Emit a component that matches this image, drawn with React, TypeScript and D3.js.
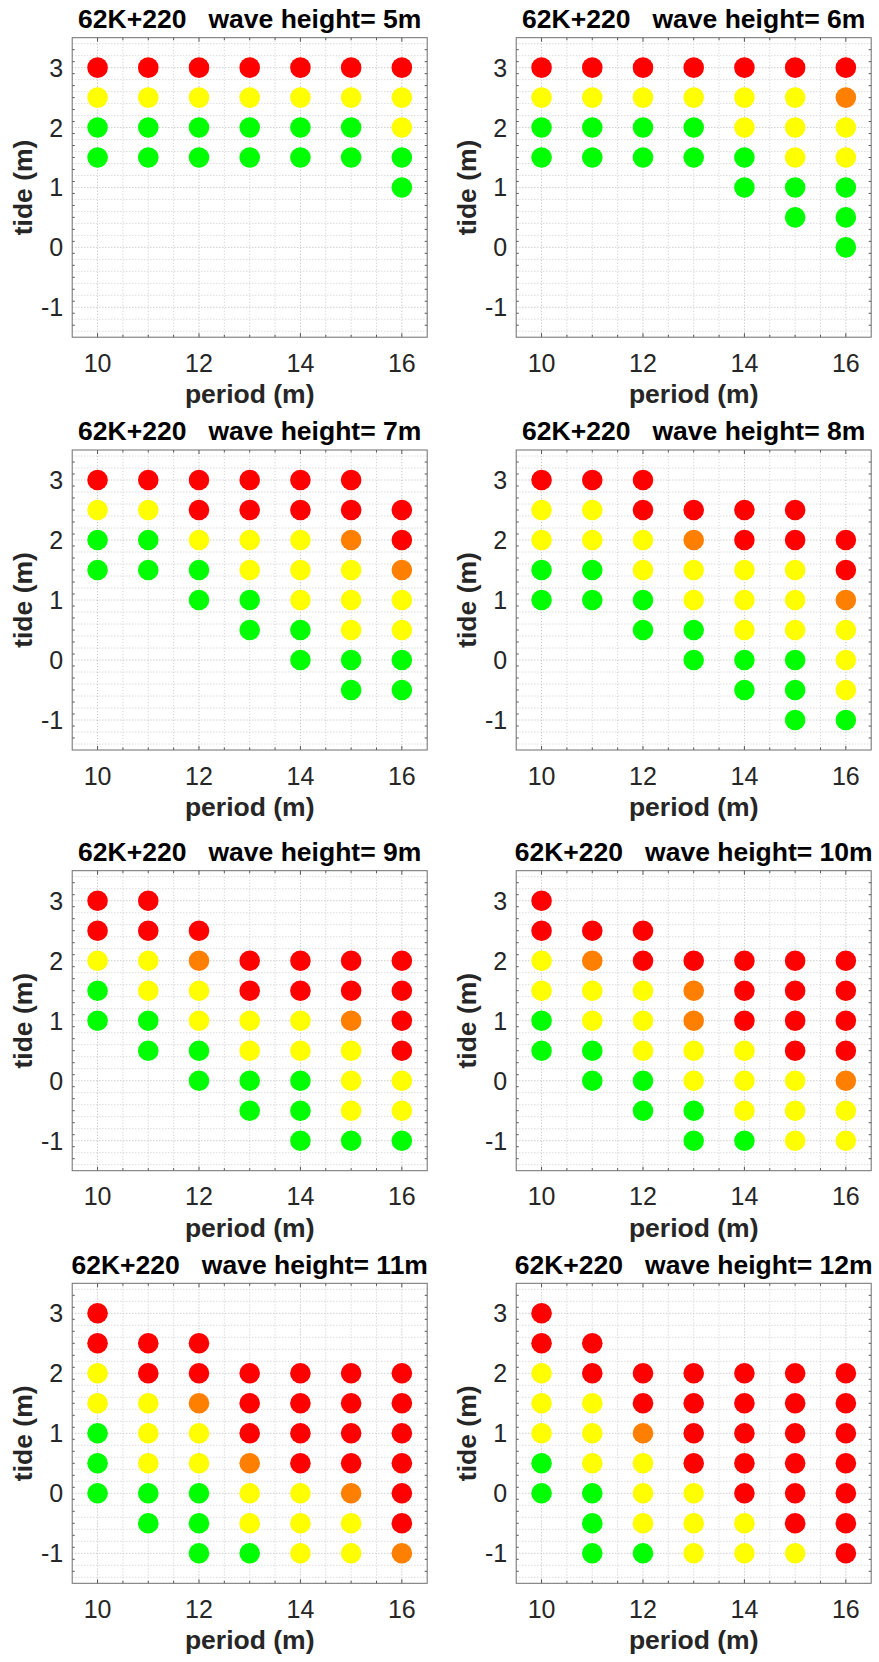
import React from 'react';
import * as d3 from 'd3';

const stationLabel = '62K+220';
const periods = [10, 11, 12, 13, 14, 15, 16];
const tideLevels = [3, 2.5, 2, 1.5, 1, 0.5, 0, -0.5, -1];
const waveHeights = [5, 6, 7, 8, 9, 10, 11, 12];
const xTickValues = [10, 12, 14, 16];
const yTickValues = [-1, 0, 1, 2, 3];
const xDomain = [9.5, 16.5];
const yDomain = [-1.5, 3.5];

// One string per period (10..16); each char is the class at the tide levels 3 .. -1 ('.' = no case)
const waveH5 = ['RYGG.....', 'RYGG.....', 'RYGG.....', 'RYGG.....', 'RYGG.....', 'RYGG.....', 'RYYGG....'];
const waveH6 = ['RYGG.....', 'RYGG.....', 'RYGG.....', 'RYGG.....', 'RYYGG....', 'RYYYGG...', 'ROYYGGG..'];
const waveH7 = ['RYGG.....', 'RYGG.....', 'RRYGG....', 'RRYYGG...', 'RRYYYGG..', 'RROYYYGG.', '.RROYYGG.'];
const waveH8 = ['RYYGG....', 'RYYGG....', 'RRYYGG...', '.ROYYGG..', '.RRYYYGG.', '.RRYYYGGG', '..RROYYYG'];
const waveH9 = ['RRYGG....', 'RRYYGG...', '.ROYYGG..', '..RRYYGG.', '..RRYYGGG', '..RROYYYG', '..RRRRYYG'];
const waveH10 = ['RRYYGG...', '.ROYYGG..', '.RRYYYGG.', '..ROOYYGG', '..RRRYYYG', '..RRRRYYY', '..RRRROYY'];
const waveH11 = ['RRYYGGG..', '.RRYYYGG.', '.RROYYGGG', '..RRROYYG', '..RRRRYYY', '..RRRROYY', '..RRRRRRO'];
const waveH12 = ['RRYYYGG..', '.RRYYYGGG', '..RROYYYG', '..RRRRYYY', '..RRRRRYY', '..RRRRRRY', '..RRRRRRR'];

const panelGrids = [waveH5, waveH6, waveH7, waveH8, waveH9, waveH10, waveH11, waveH12];

const classColors: Record<string, string> = {
  R: '#ff0000',
  O: '#ff7f00',
  Y: '#ffff00',
  G: '#00ff00',
};

const W = 879;
const H = 1662;
const colX = [
  [72.2, 427.2],
  [516.2, 871.2],
];
const rowY = [
  [37.7, 337.2],
  [450.0, 750.0],
  [870.7, 1170.7],
  [1283.3, 1583.3],
];

const FONT = "'Liberation Sans', Arial, Helvetica, sans-serif";

function range(a: number, b: number, step: number) {
  const out: number[] = [];
  const n = Math.round((b - a) / step);
  for (let i = 0; i <= n; i++) out.push(+(a + i * step).toFixed(6));
  return out;
}

function Panel({ idx }: { idx: number }) {
  const col = idx % 2;
  const row = Math.floor(idx / 2);
  const [x0, x1] = colX[col];
  const [y0, y1] = rowY[row];
  const x = d3.scaleLinear().domain(xDomain).range([x0, x1]);
  const y = d3.scaleLinear().domain(yDomain).range([y1, y0]);
  const grid = panelGrids[idx];

  const xMinor = range(9.5, 16.5, 0.5).filter((v) => v > 9.5 && v < 16.5);
  const yMinor = range(-1.5, 3.5, 0.2).filter((v) => v > -1.5 && v < 3.5);
  const yMinorAll = range(-1.4, 3.4, 0.2);

  const dots: { p: number; t: number; c: string }[] = [];
  grid.forEach((s, pi) => {
    s.split('').forEach((ch, ti) => {
      if (ch !== '.') dots.push({ p: periods[pi], t: tideLevels[ti], c: classColors[ch] });
    });
  });

  const cx = (x0 + x1) / 2;
  const cy = (y0 + y1) / 2;

  return (
    <g>
      <rect x={x0} y={y0} width={x1 - x0} height={y1 - y0} fill="#ffffff" />
      {/* vertical grid */}
      {xMinor.map((v) => {
        const major = xTickValues.includes(v);
        return (
          <line
            key={'gx' + v}
            x1={x(v)}
            x2={x(v)}
            y1={y0}
            y2={y1}
            stroke={major ? '#c4c4c4' : '#d4d4d4'}
            strokeWidth={1}
            strokeDasharray="1.2 1.8"
          />
        );
      })}
      {/* horizontal grid */}
      {yMinorAll.map((v) => {
        const major = yTickValues.includes(Math.round(v * 10) / 10) && Math.abs(v - Math.round(v)) < 1e-6;
        return (
          <line
            key={'gy' + v}
            x1={x0}
            x2={x1}
            y1={y(v)}
            y2={y(v)}
            stroke={major ? '#c4c4c4' : '#d4d4d4'}
            strokeWidth={1}
            strokeDasharray="1.2 1.8"
          />
        );
      })}
      {/* ticks, all four sides */}
      {xMinor.map((v) => {
        const len = xTickValues.includes(v) ? 4 : 2.5;
        return (
          <g key={'tx' + v}>
            <line x1={x(v)} x2={x(v)} y1={y1} y2={y1 - len} stroke="#555" strokeWidth={1} />
            <line x1={x(v)} x2={x(v)} y1={y0} y2={y0 + len} stroke="#555" strokeWidth={1} />
          </g>
        );
      })}
      {yMinor.map((v) => {
        const len = Math.abs(v - Math.round(v)) < 1e-6 ? 4 : 2.5;
        return (
          <g key={'ty' + v}>
            <line x1={x0} x2={x0 + len} y1={y(v)} y2={y(v)} stroke="#555" strokeWidth={1} />
            <line x1={x1} x2={x1 - len} y1={y(v)} y2={y(v)} stroke="#555" strokeWidth={1} />
          </g>
        );
      })}
      {/* dots */}
      {dots.map((d, i) => (
        <circle key={'d' + i} cx={x(d.p)} cy={y(d.t)} r={10.3} fill={d.c} />
      ))}
      {/* box */}
      <rect x={x0} y={y0} width={x1 - x0} height={y1 - y0} fill="none" stroke="#6e6e6e" strokeWidth={1} />
      {/* tick labels */}
      {xTickValues.map((v) => (
        <text
          key={'xl' + v}
          x={x(v)}
          y={y1 + 34.5}
          textAnchor="middle"
          fontFamily={FONT}
          fontSize={25}
          fill="#262626"
        >
          {v}
        </text>
      ))}
      {yTickValues.map((v) => (
        <text
          key={'yl' + v}
          x={x0 - 9}
          y={y(v)}
          dy="0.36em"
          textAnchor="end"
          fontFamily={FONT}
          fontSize={25}
          fill="#262626"
        >
          {v}
        </text>
      ))}
      {/* axis labels */}
      <text x={cx} y={y1 + 66} textAnchor="middle" fontFamily={FONT} fontWeight="bold" fontSize={26.5} fill="#262626">
        period (m)
      </text>
      <text
        transform={`translate(${x0 - 40},${cy}) rotate(-90)`}
        textAnchor="middle"
        fontFamily={FONT}
        fontWeight="bold"
        fontSize={26.5}
        fill="#262626"
      >
        tide (m)
      </text>
      {/* title */}
      <text
        x={cx}
        y={y0 - 9.8}
        textAnchor="middle"
        fontFamily={FONT}
        fontWeight="bold"
        fontSize={26.5}
        fill="#000"
        style={{ whiteSpace: 'pre' }}
      >
        {`${stationLabel}   wave height= ${waveHeights[idx]}m`}
      </text>
    </g>
  );
}

export default function App() {
  return (
    <svg
      width={W}
      height={H}
      viewBox={`0 0 ${W} ${H}`}
      style={{ position: 'absolute', left: 0, top: 0, background: '#fff' }}
    >
      <rect x={0} y={0} width={W} height={H} fill="#fff" />
      {waveHeights.map((_, i) => (
        <Panel key={i} idx={i} />
      ))}
    </svg>
  );
}
